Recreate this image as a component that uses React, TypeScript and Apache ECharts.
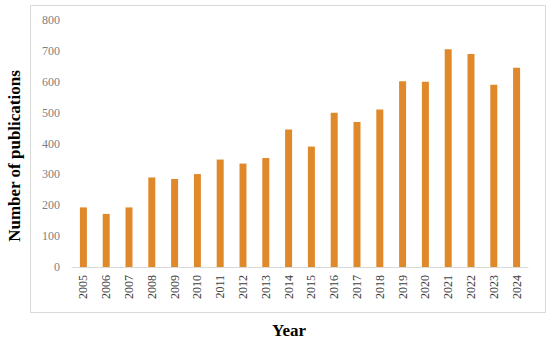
import React, { useEffect, useRef } from "react";
import * as echarts from "echarts";

const years = ["2005","2006","2007","2008","2009","2010","2011","2012","2013","2014","2015","2016","2017","2018","2019","2020","2021","2022","2023","2024"];
const publications = [193, 172, 193, 290, 285, 301, 348, 335, 353, 445, 390, 500, 470, 510, 602, 600, 705, 690, 590, 645];

export default function App() {
  const ref = useRef<HTMLDivElement>(null);
  useEffect(() => {
    document.body.style.margin = "0";
    const chart = echarts.init(ref.current!, null, { renderer: "svg" });
    chart.setOption({
      animation: false,
      backgroundColor: "#ffffff",
      graphic: [
        {
          type: "rect",
          shape: { x: 30.5, y: 5.5, width: 515, height: 307 },
          style: { fill: "none", stroke: "#d9d9d9", lineWidth: 1 },
          silent: true,
        },
        {
          type: "text",
          x: 14,
          y: 156,
          rotation: Math.PI / 2,
          style: {
            text: "Number of publications",
            font: "bold 17px 'Liberation Serif', 'DejaVu Serif', serif",
            fill: "#000",
            align: "center",
            verticalAlign: "middle",
          },
        },
        {
          type: "text",
          x: 289,
          y: 330,
          style: {
            text: "Year",
            font: "bold 17px 'Liberation Serif', 'DejaVu Serif', serif",
            fill: "#000",
            align: "center",
            verticalAlign: "middle",
          },
        },
      ],
      grid: { left: 72, right: 22, top: 20, bottom: 75 },
      xAxis: {
        type: "category",
        data: years,
        axisLine: { lineStyle: { color: "#d9d9d9" } },
        axisTick: { show: false },
        axisLabel: {
          rotate: 90,
          color: "#404040",
          fontSize: 12,
          fontFamily: "'Liberation Serif', 'DejaVu Serif', serif",
          margin: 8,
        },
      },
      yAxis: {
        type: "value",
        min: 0,
        max: 800,
        interval: 100,
        splitLine: { show: false },
        axisLine: { show: false },
        axisTick: { show: false },
        axisLabel: {
          color: "#7f7f7f",
          fontSize: 12,
          fontFamily: "'Liberation Serif', 'DejaVu Serif', serif",
          margin: 12,
        },
      },
      series: [
        {
          type: "bar",
          data: publications,
          barWidth: 7,
          itemStyle: { color: "#e0892a" },
        },
      ],
    });
    return () => chart.dispose();
  }, []);
  return <div ref={ref} style={{ width: 550, height: 342 }} />;
}
